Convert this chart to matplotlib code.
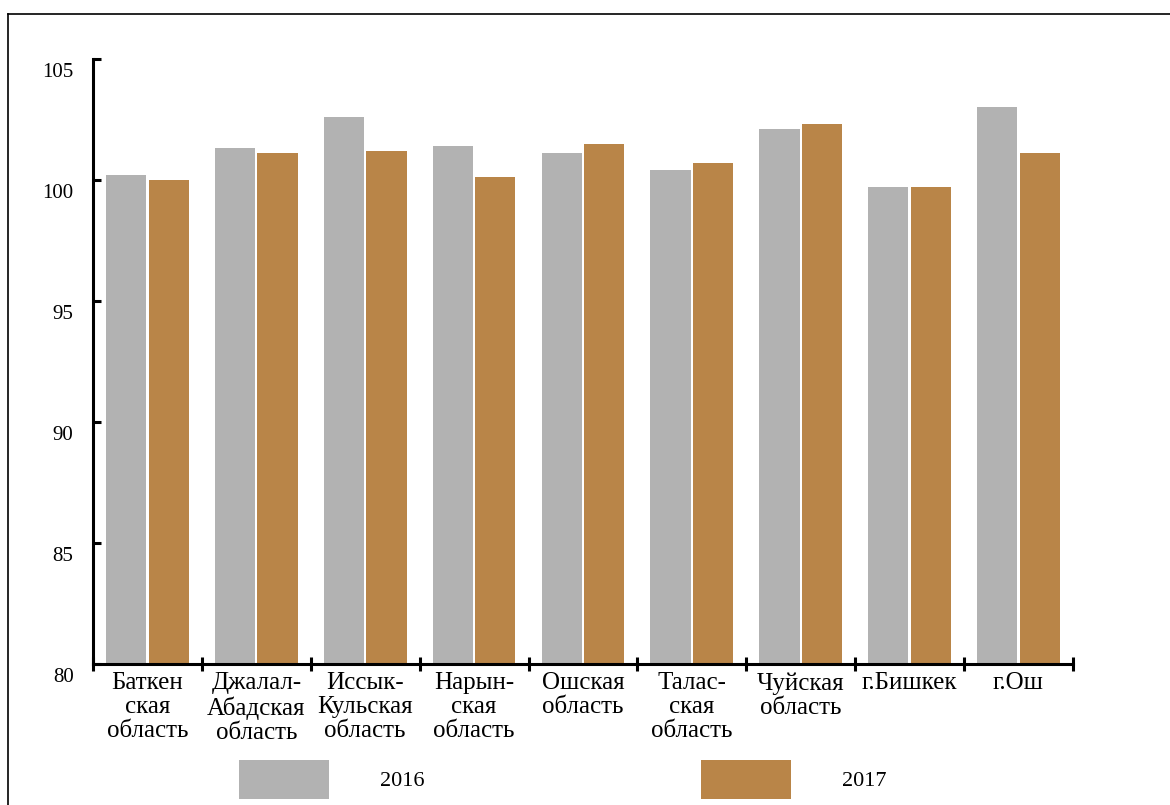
import matplotlib
matplotlib.use("Agg")
import matplotlib.pyplot as plt
import numpy as np
from matplotlib.lines import Line2D
from matplotlib.patches import Patch
from matplotlib.transforms import ScaledTranslation

regions = [
    "Баткен\nская\nобласть",
    "Джалал-\nАбадская\nобласть",
    "Иссык-\nКульская\nобласть",
    "Нарын-\nская\nобласть",
    "Ошская\nобласть",
    "Талас-\nская\nобласть",
    "Чуйская\nобласть",
    "г.Бишкек",
    "г.Ош",
]
values_2016 = [100.2, 101.3, 102.6, 101.4, 101.1, 100.4, 102.1, 99.7, 103.0]
values_2017 = [100.0, 101.1, 101.2, 100.1, 101.5, 100.7, 102.3, 99.7, 101.1]
years = ["2016", "2017"]
colors = ["#b2b2b2", "#b98548"]

plt.rcParams["font.family"] = ["Liberation Serif", "DejaVu Serif"]
plt.rcParams["font.size"] = 15

fig = plt.figure(figsize=(11.7, 8.05), dpi=100)
ax = fig.add_axes([0.0795, 0.175, 0.8375, 0.752])

x = np.arange(len(regions))
w = 0.37
ax.bar(x - 0.195, np.array(values_2016) - 80, w, bottom=80, color=colors[0])
ax.bar(x + 0.195, np.array(values_2017) - 80, w, bottom=80, color=colors[1])

ax.set_xlim(-0.5, len(regions) - 0.5)
ax.set_ylim(80, 105)
ax.set_yticks([80, 85, 90, 95, 100, 105])
ax.set_xticks(x)
ax.set_xticklabels(regions, linespacing=1.1, fontsize=18)
ax.set_xticks(np.arange(len(regions) + 1) - 0.5, minor=True)

for s in ["top", "right"]:
    ax.spines[s].set_visible(False)
for s in ["left", "bottom"]:
    ax.spines[s].set_linewidth(2.2)

ax.tick_params(axis="x", which="major", length=0, pad=6)
ax.tick_params(axis="x", which="minor", direction="inout", length=10, width=2.2)
ax.tick_params(axis="y", direction="in", length=6, width=2.2, pad=14)
for lab in ax.get_yticklabels():
    lab.set_transform(lab.get_transform() + ScaledTranslation(0, -11 / 100, fig.dpi_scale_trans))

handles = [Patch(facecolor=c, edgecolor="none") for c in colors]
fig.legend(handles, years, loc="center", bbox_to_anchor=(0.481, 0.032), ncol=2,
           frameon=False, handlelength=4.05, handleheight=2.3, handletextpad=2.3,
           columnspacing=12.4, fontsize=16)

# outer frame (left and top only)
fig.add_artist(Line2D([8 / 1170, 8 / 1170], [0, 0.9826], color="black", lw=1.2,
                      transform=fig.transFigure))
fig.add_artist(Line2D([8 / 1170, 1], [0.9826, 0.9826], color="black", lw=1.2,
                      transform=fig.transFigure))

fig.savefig("out.png", dpi=100)
